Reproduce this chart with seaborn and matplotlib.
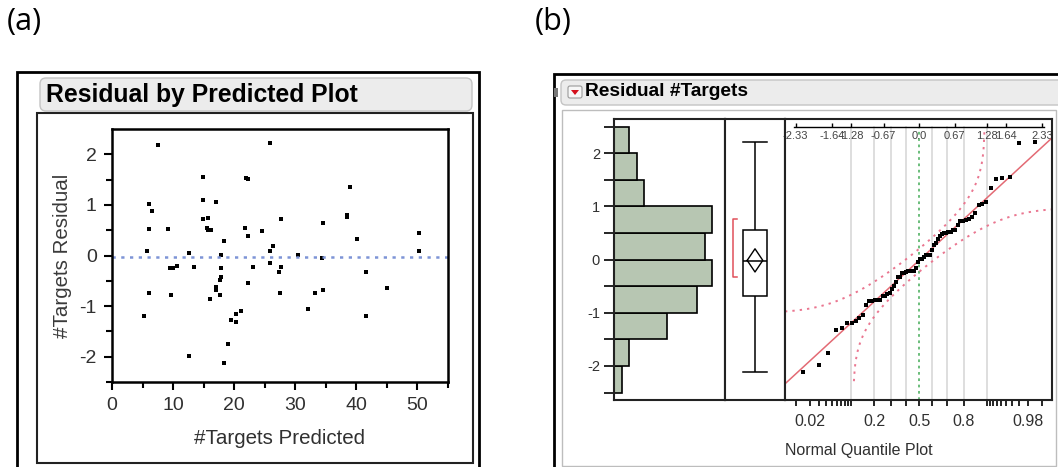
import numpy as np
import pandas as pd
import matplotlib
matplotlib.use("Agg")
import matplotlib.pyplot as plt
import seaborn as sns
from matplotlib.patches import FancyBboxPatch, Rectangle, Polygon
from matplotlib.transforms import IdentityTransform
from statistics import NormalDist

# ---------------- data ----------------
predicted = [7.55, 25.8, 14.9, 22.2, 22.0, 39.0, 6.1, 14.9, 17.1, 6.6,
             14.9, 15.7, 27.7, 34.6, 38.4, 38.4, 6.1, 9.1, 15.6, 15.7,
             16.25, 21.7, 18.3, 22.3, 24.5, 40.1, 50.2, 5.8, 12.6, 17.9,
             26.4, 25.8, 30.5, 34.3, 50.2, 9.5, 10.0, 10.6, 13.5, 17.9,
             17.9, 17.6, 17.1, 17.1, 17.6, 22.2, 23.1, 25.8, 27.7, 27.4,
             27.5, 33.3, 34.6, 41.5, 45.0, 6.1, 9.6, 16.0, 5.3, 32.1,
             41.5, 21.1, 20.3, 19.5, 20.3, 19.0, 12.6, 18.3]
residual = [2.19, 2.22, 1.55, 1.51, 1.53, 1.35, 1.02, 1.09, 1.05, 0.88,
            0.72, 0.75, 0.72, 0.65, 0.81, 0.76, 0.52, 0.52, 0.55, 0.51,
            0.51, 0.55, 0.28, 0.38, 0.48, 0.32, 0.45, 0.08, 0.05, 0.01,
            0.19, 0.08, 0.01, -0.05, 0.08, -0.25, -0.24, -0.21, -0.22, -0.25,
            -0.42, -0.49, -0.62, -0.68, -0.78, -0.55, -0.22, -0.15, -0.22, -0.32,
            -0.75, -0.75, -0.68, -0.32, -0.65, -0.75, -0.78, -0.85, -1.19, -1.05,
            -1.19, -1.09, -1.15, -1.28, -1.32, -1.75, -1.99, -2.12]

xticks_a = [0, 10, 20, 30, 40, 50]
yticks = [-2, -1, 0, 1, 2]
hist_edges = [-2.5, -2.0, -1.5, -1.0, -0.5, 0.0, 0.5, 1.0, 1.5, 2.0, 2.5]
top_q_ticks = [-2.33, -1.64, -1.28, -0.67, 0.0, 0.67, 1.28, 1.64, 2.33]
top_q_labels = ["-2.33", "-1.64", "-1.28", "-0.67", "0.0", "0.67", "1.28", "1.64", "2.33"]
prob_labels = [0.02, 0.2, 0.5, 0.8, 0.98]
prob_label_text = ["0.02", "0.2", "0.5", "0.8", "0.98"]
prob_minor = [0.01, 0.02, 0.03, 0.04, 0.05, 0.06, 0.07, 0.08, 0.09, 0.1,
              0.2, 0.3, 0.4, 0.5, 0.6, 0.7, 0.8, 0.9,
              0.91, 0.92, 0.93, 0.94, 0.95, 0.96, 0.97, 0.98, 0.99]
grid_probs = [0.1, 0.2, 0.3, 0.4, 0.6, 0.7, 0.8, 0.9]

# ---------------- style ----------------
plt.rcParams['font.family'] = ['Liberation Sans', 'DejaVu Sans']
plt.rcParams['axes.unicode_minus'] = False
W, H = 1058, 467
fig = plt.figure(figsize=(W / 100, H / 100), dpi=100)
nd = NormalDist()

def ax_at(x0, y0, x1, y1):
    return fig.add_axes([x0 / W, 1 - y1 / H, (x1 - x0) / W, (y1 - y0) / H])

def rect(x0, y0, x1, y1, **kw):
    p = Rectangle((x0, H - y1), x1 - x0, y1 - y0, transform=IdentityTransform(), **kw)
    fig.add_artist(p)

def rbox(x0, y0, x1, y1, r=5, **kw):
    p = FancyBboxPatch((x0, H - y1), x1 - x0, y1 - y0,
                       boxstyle=f"round,pad=0,rounding_size={r}",
                       transform=IdentityTransform(), **kw)
    fig.add_artist(p)

# panel letters
fig.text(7 / W, 1 - 22 / H, "(a)", fontsize=22, family='Open Sans', va='center', ha='left')
fig.text(535 / W, 1 - 22 / H, "(b)", fontsize=22, family='Open Sans', va='center', ha='left')

# ---------------- left panel frames ----------------
rect(17, 72, 479, 475, fill=False, ec='black', lw=2)
rbox(40, 78, 472, 111, r=6, fc='#ececec', ec='#c4c4c4', lw=1)
rect(37, 113, 473, 463, fill=False, ec='#222222', lw=1.5)
fig.text(46 / W, 1 - 95 / H, "Residual by Predicted Plot", fontsize=17.8,
         fontweight='bold', va='center', ha='left')

# ---------------- (a) residual by predicted ----------------
ax1 = ax_at(112, 129, 448, 382)
sns.scatterplot(x=predicted, y=residual, ax=ax1, color='black', marker='s',
                s=7, linewidth=0)
ax1.axhline(-0.02, color='#7d94d6', lw=1.8, ls=(0, (1.3, 2.2)), zorder=1)
ax1.set_xlim(0, 55)
ax1.set_ylim(-2.5, 2.5)
ax1.set_xticks(xticks_a)
ax1.set_xticks(np.arange(5, 56, 10), minor=True)
ax1.set_yticks(yticks)
ax1.set_yticks([-2.5, -1.5, -0.5, 0.5, 1.5], minor=True)
ax1.tick_params(axis='both', which='major', length=6, width=1.5, labelsize=14,
                labelcolor='#303030', pad=5)
ax1.tick_params(axis='both', which='minor', length=4, width=1.5)
for s in ax1.spines.values():
    s.set_linewidth(1.8)
    s.set_color('black')
ax1.set_xlabel("#Targets Predicted", fontsize=14.8, color='#303030', va='center')
ax1.xaxis.set_label_coords(0.5, -(439 - 382) / 253)
ax1.set_ylabel("#Targets Residual", fontsize=14.8, color='#3a3a3a', va='center')
ax1.yaxis.set_label_coords((63 - 112) / 336, 0.5)

# ---------------- right panel frames ----------------
rect(554, 74, 1070, 475, fill=False, ec='black', lw=2)
rbox(561, 80, 1075, 105, r=5, fc='#ececec', ec='#c4c4c4', lw=1)
rect(562, 110, 1056, 466, fill=False, ec='#bdbdbd', lw=1)
rect(554, 88, 558, 97, fc='#777777', ec='none')
rbox(568, 86, 582, 98, r=2, fc='#f7f7f7', ec='#9a9a9a', lw=0.8)
fig.add_artist(Polygon([(571, H - 90), (579, H - 90), (575, H - 95)], closed=True,
                       transform=IdentityTransform(), fc='#d4101c', ec='none'))
fig.text(585 / W, 1 - 92 / H, "Residual #Targets", fontsize=13.8,
         fontweight='bold', va='center', ha='left')

YLIM_B = (-2.64, 2.645)
res = np.array(residual)
n = len(res)
mean = res.mean()
sd = res.std(ddof=1)

# ---------------- histogram ----------------
axh = ax_at(614, 119, 725, 400)
sns.histplot(y=residual, bins=hist_edges, ax=axh, color='#b7c6b2',
             edgecolor='black', linewidth=1.2, alpha=1)
axh.set_xlim(0, 14.7)
axh.set_ylim(*YLIM_B)
axh.set_xticks([])
axh.set_xlabel("")
axh.set_ylabel("")
axh.set_yticks(yticks)
axh.set_yticks(hist_edges, minor=True)
axh.tick_params(axis='y', which='both', length=7, width=1.2, labelsize=10.5,
                labelcolor='#303030', pad=3)
for s in axh.spines.values():
    s.set_linewidth(1.5)
    s.set_color('#222222')

# ---------------- box plot ----------------
axb = ax_at(725, 119, 785, 400)
sns.boxplot(y=residual, ax=axb, whis=(0, 100), width=0.4, color='white',
            linecolor='black', linewidth=1.1, saturation=1, capwidths=0.4,
            fliersize=0)
axb.set_xlim(-0.5, 0.5)
axb.set_ylim(*YLIM_B)
axb.set_xticks([])
axb.set_yticks([])
axb.set_ylabel("")
ci = nd.inv_cdf(0.975) * sd / np.sqrt(n)
hw = 0.13
axb.plot([-hw, 0, hw, 0, -hw], [mean, mean + ci, mean, mean - ci, mean],
         color='black', lw=1.0)
srt = np.sort(res)
k = n // 2
widths = srt[k - 1:] - srt[:n - k + 1]
i0 = int(np.argmin(widths))
lo, hi = srt[i0], srt[i0 + k - 1]
axb.plot([-0.30, -0.37, -0.37, -0.30], [lo, lo, hi, hi], color='#e0505a', lw=1.1)
for s in axb.spines.values():
    s.set_linewidth(1.5)
    s.set_color('#222222')

# ---------------- normal quantile plot ----------------
axq = ax_at(785, 119, 1052, 400)
XLIM_Q = (-2.53, 2.51)
zq = np.array([nd.inv_cdf((i + 1) / (n + 1)) for i in range(n)])
for p in grid_probs:
    axq.axvline(nd.inv_cdf(p), ymax=0.973, color='#d4d4d4', lw=1.1, zorder=0)
axq.axvline(0, ymax=0.973, color='#5fb870', lw=1.3, ls=(0, (1.5, 2)), zorder=0)

zz = np.linspace(XLIM_Q[0], XLIM_Q[1], 400)
axq.plot(zz, mean + sd * zz, color='#e36a74', lw=1.1, zorder=2)
# Lilliefors-type confidence bands
d = 0.886 / np.sqrt(n)
band_scale = 0.865 * sd
pp = np.array([nd.cdf(v) for v in zz])
up_mask = pp + d < 1
lo_mask = pp - d > 0
band_up = [mean + band_scale * nd.inv_cdf(v + d) for v in pp[up_mask]]
band_lo = [mean + band_scale * nd.inv_cdf(v - d) for v in pp[lo_mask]]
axq.plot(zz[up_mask], band_up, color='#ea7690', lw=1.4, ls=(0, (1.2, 2.6)), zorder=2)
axq.plot(zz[lo_mask], band_lo, color='#ea7690', lw=1.4, ls=(0, (1.2, 2.6)), zorder=2)
sns.scatterplot(x=zq, y=srt, ax=axq, color='black', marker='s', s=5,
                linewidth=0, zorder=3)
axq.set_xlim(*XLIM_Q)
axq.set_ylim(*YLIM_B)
axq.set_yticks([])
axq.set_xticks([nd.inv_cdf(p) for p in prob_labels], labels=prob_label_text)
axq.set_xticks([nd.inv_cdf(p) for p in prob_minor], minor=True)
axq.tick_params(axis='x', which='both', length=4, width=1.2, labelsize=11.5,
                labelcolor='#303030', pad=6)
for s in axq.spines.values():
    s.set_linewidth(1.5)
    s.set_color('#222222')
axq.set_xlabel("Normal Quantile Plot", fontsize=11.5, color='#303030',
               ha='left', va='center')
axq.xaxis.set_label_coords(0, -(450 - 400) / 281)

sec = axq.secondary_xaxis((400 - 126.7) / 281)
sec.set_alignment('bottom')
sec.set_xticks(top_q_ticks, labels=top_q_labels)
sec.tick_params(axis='x', direction='in', length=3, width=1, labelsize=8,
                labelcolor='#444444', pad=3)
sec.spines['bottom'].set_bounds(-2.36, 2.36)
sec.spines['bottom'].set_linewidth(1)

fig.savefig("out.png", dpi=100)
